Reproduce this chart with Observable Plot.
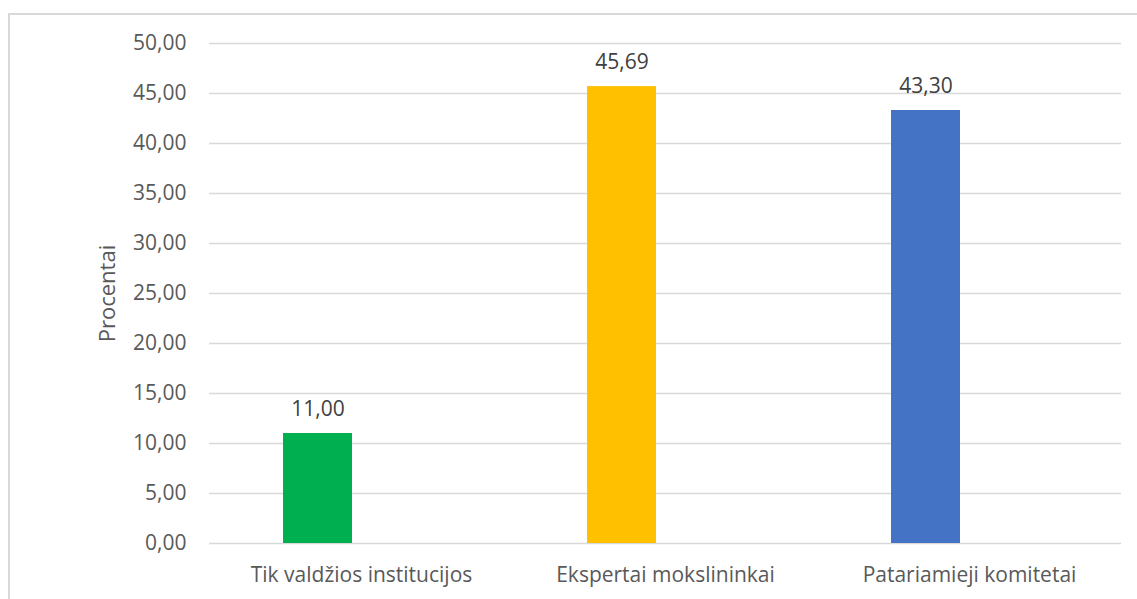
<!DOCTYPE html>
<html>
<head>
<meta charset="utf-8">
<script src="https://cdn.jsdelivr.net/npm/d3@7"></script>
<script src="https://cdn.jsdelivr.net/npm/@observablehq/plot@0.6"></script>
<style>
  html, body { margin: 0; padding: 0; background: #fff; }
  #wrap { position: relative; width: 1137px; height: 599px; overflow: hidden; background: #fff; }
  #border { position: absolute; left: 8px; top: 13px; width: 1300px; height: 800px; border: 2px solid #d9d9d9; box-sizing: border-box; }
  #chart { position: absolute; left: 0; top: 0; }
  svg { font-family: "Open Sans", "Noto Sans", sans-serif; }
</style>
</head>
<body>
<div id="wrap"><div id="border"></div><div id="chart"></div></div>
<script>
const categories = ["Tik valdžios institucijos", "Ekspertai mokslininkai", "Patariamieji komitetai"];
const values = [11.00, 45.69, 43.30];
const colors = ["#00B050", "#FFC000", "#4472C4"];
const yTicks = [0, 5, 10, 15, 20, 25, 30, 35, 40, 45, 50];
const yLabel = "Procentai";

const data = categories.map((c, i) => ({category: c, value: values[i], color: colors[i]}));
const fmt = v => v.toFixed(2).replace(".", ",");

const chart = Plot.plot({
  width: 1137,
  height: 599,
  marginTop: 43,
  marginBottom: 56,
  marginLeft: 209,
  marginRight: 16,
  style: {fontFamily: "'Open Sans', 'Noto Sans', sans-serif", background: "transparent", overflow: "visible"},
  x: {domain: categories, padding: 0},
  y: {domain: [0, 50]},
  marks: [
    Plot.gridY(yTicks, {stroke: "#d9d9d9", strokeOpacity: 1, strokeWidth: 1.5}),
    Plot.barY(data, {x: "category", y: "value", fill: "color", insetLeft: 74, insetRight: 161}),
    Plot.text(data, {x: "category", y: "value", text: d => fmt(d.value), dx: -43.5, dy: -24, fontSize: 21, fill: "#404040"}),
    Plot.axisY(yTicks, {tickSize: 0, tickPadding: 23, tickFormat: fmt, fontSize: 21, color: "#595959", label: null}),
    Plot.text([yLabel], {frameAnchor: "left", dx: -102, rotate: -90, fontSize: 22, fill: "#595959", lineAnchor: "middle", textAnchor: "middle"}),
    Plot.axisX({tickSize: 0, tickPadding: 24, fontSize: 21, color: "#595959", label: null})
  ]
});
document.getElementById("chart").appendChild(chart);
</script>
</body>
</html>
